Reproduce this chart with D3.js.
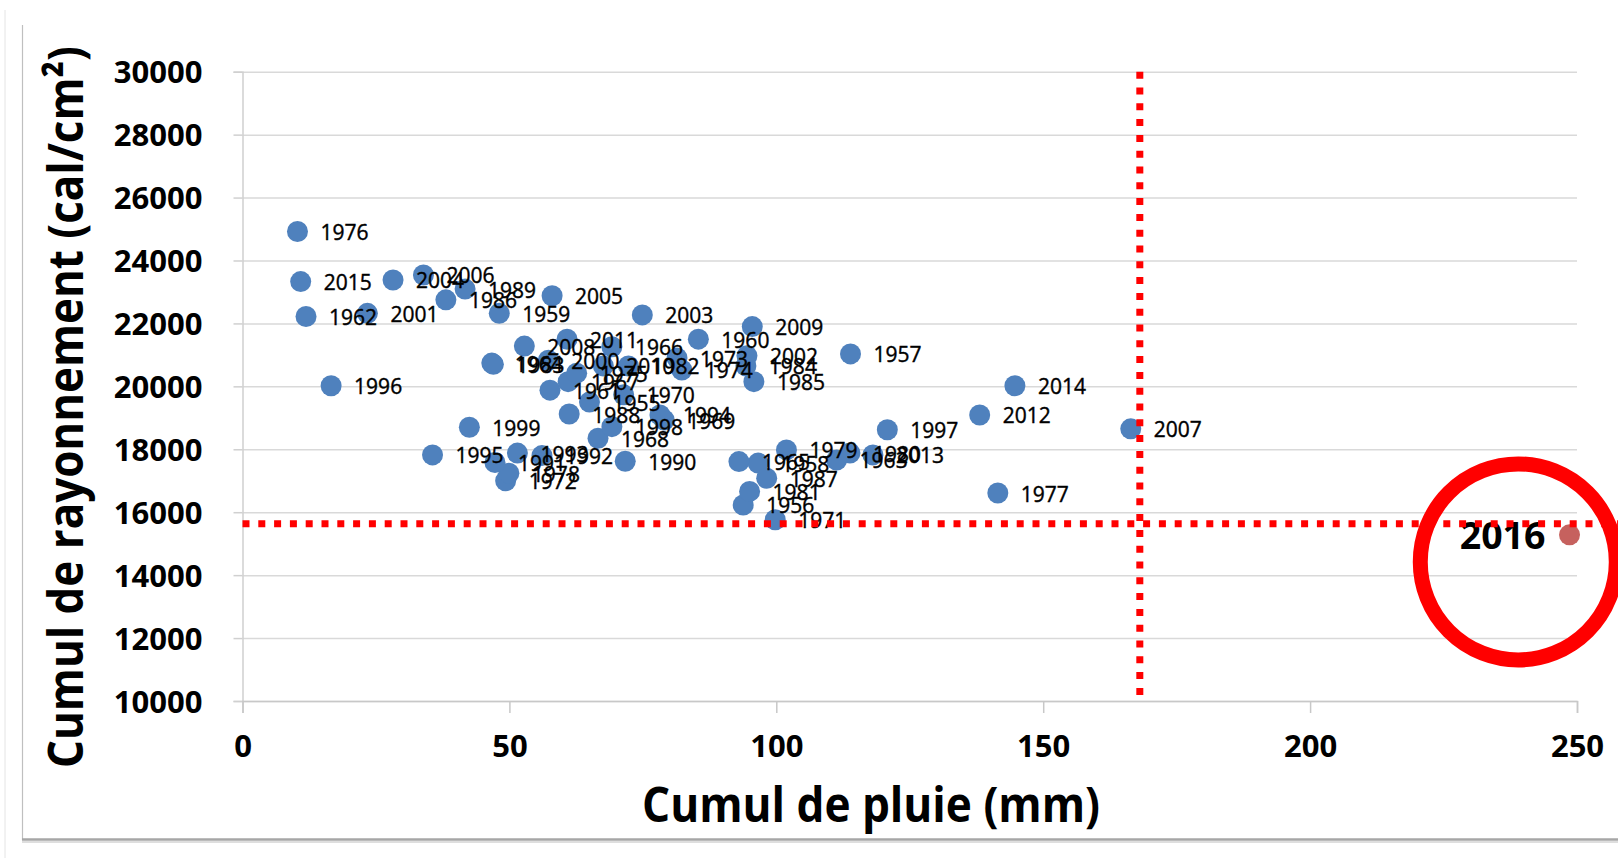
<!DOCTYPE html>
<html>
<head>
<meta charset="utf-8">
<script src="https://cdn.jsdelivr.net/npm/d3@7"></script>
<style>
  html, body { margin: 0; padding: 0; background: #fff; }
  svg { display: block; }
</style>
</head>
<body>
<svg id="chart" width="1618" height="858"></svg>
<script>
// ---------- DATA ----------
const years = [1955,1956,1957,1958,1959,1960,1961,1962,1963,1964,1965,1966,1967,1968,1969,1970,
  1971,1972,1973,1974,1975,1976,1977,1978,1979,1980,1981,1982,1983,1984,1985,1986,1987,1988,
  1989,1990,1991,1992,1993,1994,1995,1996,1997,1998,1999,2000,2001,2002,2003,2004,2005,2006,
  2007,2008,2009,2010,2011,2012,2013,2014,2015,2016];
const rain = [65.0,93.8,113.9,96.6,48.1,85.4,57.6,11.9,111.3,46.7,93.0,69.2,61.0,66.6,79.0,71.4,
  99.8,49.3,81.4,82.3,62.6,10.3,141.5,49.9,101.9,113.8,95.0,72.3,47.0,94.3,95.8,38.1,98.2,61.2,
  41.7,71.7,47.3,56.1,51.5,78.2,35.6,16.6,120.8,69.2,42.5,57.3,23.4,94.5,74.9,28.2,58.0,33.9,
  166.4,52.8,95.5,67.6,60.8,138.1,118.1,144.7,10.9,248.6];
const radiation = [19500,16230,21030,17560,22320,21500,19880,22220,17660,20740,17610,21260,20150,18350,18930,19730,
  15760,17000,20900,20520,20420,24920,16610,17240,17980,17880,16660,20650,20700,20650,20150,22750,17080,19120,
  23090,17620,17580,17800,17880,19090,17820,20020,18620,18720,18700,20830,22320,20970,22270,23380,22880,23540,
  18650,21280,21900,20650,21500,19090,17820,20020,23330,15280];
const highlightYear = 2016;
const xTicks = [0, 50, 100, 150, 200, 250];
const yTicks = [10000, 12000, 14000, 16000, 18000, 20000, 22000, 24000, 26000, 28000, 30000];
const refRain = 168.1;          // vertical red dotted line (mm)
const refRadiation = 15630;     // horizontal red dotted line (cal/cm²)
const ringCenter = [239, 14420];// red circle annotation centre (data units)
const xTitle = "Cumul de pluie (mm)";
const yTitle = "Cumul de rayonnement (cal/cm²)";

// ---------- LAYOUT ----------
const W = 1618, H = 858;
const svg = d3.select("#chart");
const x = d3.scaleLinear().domain([0, 250]).range([242.5, 1577]);
const y = d3.scaleLinear().domain([10000, 30000]).range([701, 71.7]);
const FONT = "'Open Sans', 'Liberation Sans', sans-serif";

svg.append("rect").attr("width", W).attr("height", H).attr("fill", "#fff");

// outer frame remnants
svg.append("line").attr("x1", 5).attr("x2", 5).attr("y1", 10).attr("y2", H)
  .attr("stroke", "#e4e4e4").attr("stroke-width", 1);
svg.append("line").attr("x1", 22.5).attr("x2", 22.5).attr("y1", 25).attr("y2", 840)
  .attr("stroke", "#bfbfbf").attr("stroke-width", 1.2);
svg.append("line").attr("x1", 22).attr("x2", W).attr("y1", 839.5).attr("y2", 839.5)
  .attr("stroke", "#a6a6a6").attr("stroke-width", 2.5);
svg.append("line").attr("x1", 22).attr("x2", W).attr("y1", 842).attr("y2", 842)
  .attr("stroke", "#dedede").attr("stroke-width", 2);

// gridlines
svg.append("g")
  .attr("transform", `translate(${x(0)},0)`)
  .call(d3.axisLeft(y).tickValues(yTicks).tickSize(-(x(250) - x(0))).tickFormat(""))
  .call(g => g.select(".domain").remove())
  .call(g => g.selectAll("line").attr("stroke", "#d9d9d9").attr("stroke-width", 1.5));

// y axis
const yAxis = svg.append("g")
  .attr("transform", `translate(${x(0)},0)`)
  .call(d3.axisLeft(y).tickValues(yTicks).tickSize(9).tickPadding(31).tickFormat(d3.format("d")));
yAxis.select(".domain").attr("stroke", "#d0d0d0").attr("stroke-width", 1.5);
yAxis.selectAll(".tick line").attr("stroke", "#d0d0d0").attr("stroke-width", 1.5);
yAxis.selectAll("text").attr("font-family", FONT).attr("font-weight", "bold")
  .attr("font-size", 31).attr("fill", "#000").attr("dy", "0.36em");

// x axis
const xAxis = svg.append("g")
  .attr("transform", `translate(0,${y(10000)})`)
  .call(d3.axisBottom(x).tickValues(xTicks).tickSize(12).tickPadding(22).tickFormat(d3.format("d")));
xAxis.select(".domain").attr("stroke", "#c8c8c8").attr("stroke-width", 1.5);
xAxis.selectAll(".tick line").attr("stroke", "#c8c8c8").attr("stroke-width", 1.5);
xAxis.selectAll("text").attr("font-family", FONT).attr("font-weight", "bold")
  .attr("font-size", 31).attr("fill", "#000").attr("dy", "0.71em");

// axis titles
svg.append("text")
  .attr("x", 871).attr("y", 822)
  .attr("text-anchor", "middle")
  .attr("font-family", FONT).attr("font-weight", "bold").attr("font-size", 48)
  .attr("textLength", 458).attr("lengthAdjust", "spacingAndGlyphs")
  .attr("fill", "#000")
  .text(xTitle);
svg.append("text")
  .attr("transform", "translate(83,407) rotate(-90)")
  .attr("text-anchor", "middle")
  .attr("font-family", FONT).attr("font-weight", "bold").attr("font-size", 49)
  .attr("textLength", 722).attr("lengthAdjust", "spacingAndGlyphs")
  .attr("fill", "#000")
  .text(yTitle);

// points
const pts = years.map((yr, i) => ({ year: yr, rain: rain[i], rad: radiation[i] }));
const normal = pts.filter(d => d.year !== highlightYear);
const hi = pts.filter(d => d.year === highlightYear);

svg.append("g").selectAll("circle").data(normal).join("circle")
  .attr("cx", d => x(d.rain)).attr("cy", d => y(d.rad)).attr("r", 10.5)
  .attr("fill", "#4f81bd");
svg.append("g").selectAll("circle").data(hi).join("circle")
  .attr("cx", d => x(d.rain)).attr("cy", d => y(d.rad)).attr("r", 10.5)
  .attr("fill", "#c0504d").attr("fill-opacity", 0.9);

// labels
svg.append("g").selectAll("text").data(normal).join("text")
  .attr("x", d => x(d.rain) + 23).attr("y", d => y(d.rad) + 8.5)
  .attr("font-family", FONT).attr("font-size", 21).attr("fill", "#000")
  .attr("stroke", "#000").attr("stroke-width", 0.4)
  .text(d => d.year);
svg.append("g").selectAll("text").data(hi).join("text")
  .attr("x", d => x(d.rain) - 24).attr("y", d => y(d.rad) + 14)
  .attr("text-anchor", "end")
  .attr("font-family", FONT).attr("font-weight", "bold").attr("font-size", 37.5).attr("fill", "#000")
  .text(d => d.year);

// red dotted reference lines
svg.append("line")
  .attr("x1", x(0)).attr("x2", W)
  .attr("y1", y(refRadiation)).attr("y2", y(refRadiation))
  .attr("stroke", "#ff0000").attr("stroke-width", 7).attr("stroke-dasharray", "7,8.8");
svg.append("line")
  .attr("x1", x(refRain)).attr("x2", x(refRain))
  .attr("y1", y(30000)).attr("y2", y(10000))
  .attr("stroke", "#ff0000").attr("stroke-width", 7).attr("stroke-dasharray", "7,8.8");

// red ring annotation
svg.append("circle")
  .attr("cx", x(ringCenter[0])).attr("cy", y(ringCenter[1])).attr("r", 98)
  .attr("fill", "none").attr("stroke", "#ff0000").attr("stroke-width", 15);
</script>
</body>
</html>
